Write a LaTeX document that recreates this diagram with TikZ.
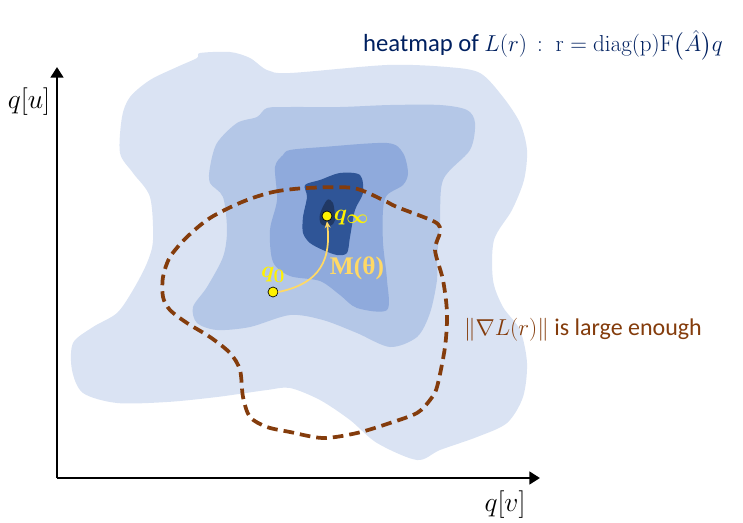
\documentclass[tikz,border=0pt]{standalone}
\usepackage{amsmath,bm}
\usepackage[no-math]{fontspec}
\setmainfont{Carlito}
\newfontfamily\serifbf{Liberation Serif}
\usetikzlibrary{arrows.meta,positioning,calc}
\definecolor{lvlone}{HTML}{DAE3F3}
\definecolor{lvltwo}{HTML}{B4C7E7}
\definecolor{lvlthree}{HTML}{8FAADC}
\definecolor{lvlfour}{HTML}{2F5597}
\definecolor{lvlfive}{HTML}{203864}
\definecolor{rust}{HTML}{843C0C}
\definecolor{navy}{HTML}{002060}
\definecolor{paleyel}{HTML}{FFD966}
\tikzstyle{blob} = [draw=none, smooth cycle, tension=0.5]
\tikzstyle{axis} = [line width=2.2pt, -{Triangle[length=8pt,width=9.5pt]}]
\tikzstyle{point} = [circle, draw=black, line width=0.5pt, fill=yellow, minimum size=7.5pt, inner sep=0pt]
\tikzstyle{ptlabel} = [text=yellow, inner sep=0pt, font=\fontsize{19}{19}\selectfont]
\tikzstyle{flow} = [draw=paleyel, line width=1.3pt, -{Stealth[length=5pt,width=4.5pt]}]
\tikzstyle{boundary} = [draw=rust, line width=2.8pt, dash pattern=on 8pt off 4.5pt, smooth cycle, tension=0.5]

\begin{document}
\begin{tikzpicture}[x=0.75pt,y=-0.75pt]
\useasboundingbox (0,0) rectangle (743,522);

% heatmap levels
\fill[lvlone] plot[blob] coordinates {(200,53) (230,52) (250,58) (267,70) (290,73) (387,65) (447,67) (480,73) (503,97) (520,123) (527,150) (524,180) (512,210) (494,240) (493,280) (503,307) (520,330) (527,363) (523,397) (507,423) (477,437) (440,450) (417,460) (377,443) (350,420) (320,400) (290,388) (267,390) (217,397) (167,402) (117,403) (83,393) (72,370) (73,343) (93,327) (117,313) (133,290) (147,263) (153,240) (150,197) (133,173) (120,153) (122,117) (130,97) (150,80) (177,67) (197,58)};
\fill[lvltwo] plot[blob] coordinates {(267,108) (290,107) (340,107) (390,105) (440,105) (467,110) (475,123) (470,150) (443,180) (440,227) (437,257) (437,280) (430,313) (417,337) (390,347) (357,333) (323,320) (290,315) (250,327) (217,330) (197,323) (193,307) (207,287) (223,257) (227,230) (223,197) (210,183) (210,167) (217,143) (237,123) (257,117)};
\fill[lvlthree] plot[blob] coordinates {(290,150) (323,147) (387,143) (403,153) (408,173) (403,185) (387,195) (383,210) (383,243) (387,280) (387,310) (357,308) (340,295) (320,281) (290,276) (273,262) (270,230) (277,200) (275,167) (283,155)};
\fill[lvlfour] plot[blob] coordinates {(305,185) (320,180) (340,173) (360,175) (363,193) (355,210) (350,237) (347,253) (337,255) (323,250) (310,243) (303,233) (303,217) (307,197)};
\fill[lvlfive] plot[blob] coordinates {(320,214) (327,200) (333,203) (335,220) (330,226) (321,224)};

% region where the gradient is large
\draw[boundary] plot coordinates {(242,202) (273,192) (307,188) (353,188) (383,200) (397,207) (435,222) (440,232) (435,250) (443,280) (447,313) (445,347) (437,387) (430,400) (417,413) (390,423) (357,433) (323,438) (290,432) (267,427) (250,417) (243,397) (240,370) (230,353) (210,337) (187,323) (170,310) (163,297) (163,277) (170,257) (187,237) (210,218)};

% axes
\coordinate (origin) at (57,478);
\coordinate (utop) at (57,67);
\coordinate (vend) at (540,478);
\draw[axis] (origin) -- (utop);
\draw[axis] (origin.center) -- (vend);
\node (ulabel) at (29,102) {\fontsize{20}{20}\selectfont $q[u]$};
\node (vlabel) at (505,505) {\fontsize{20}{20}\selectfont $q[v]$};

% points and the flow
\node (q0) [point] at (273,292) {};
\node (qinf) [point] at (327,216) {};
\node (q0lab) [ptlabel, above=3pt of q0] {$\bm{q_0}$};
\node (qinflab) [ptlabel, right=1pt of qinf, yshift=-1pt] {$\bm{q_\infty}$};
\draw[flow] (q0.east) .. controls (312,285) and (332,268) .. (qinf.south);
\node (mlab) [text=paleyel] at (357,268) {\fontsize{19}{19}\serifbf\bfseries M(θ)};

% texts
\node (title) [text=navy] at (543,45) {\fontsize{18.5}{18.5}\selectfont heatmap of $L(r)\,:\;\mathrm{r}=\mathrm{diag(p)F}\bigl(\hat{A}\bigr)q$};
\node (gradlab) [text=rust] at (583,330) {\fontsize{18}{18}\selectfont $\|\nabla L(r)\|$ is large enough};
\end{tikzpicture}
\end{document}
